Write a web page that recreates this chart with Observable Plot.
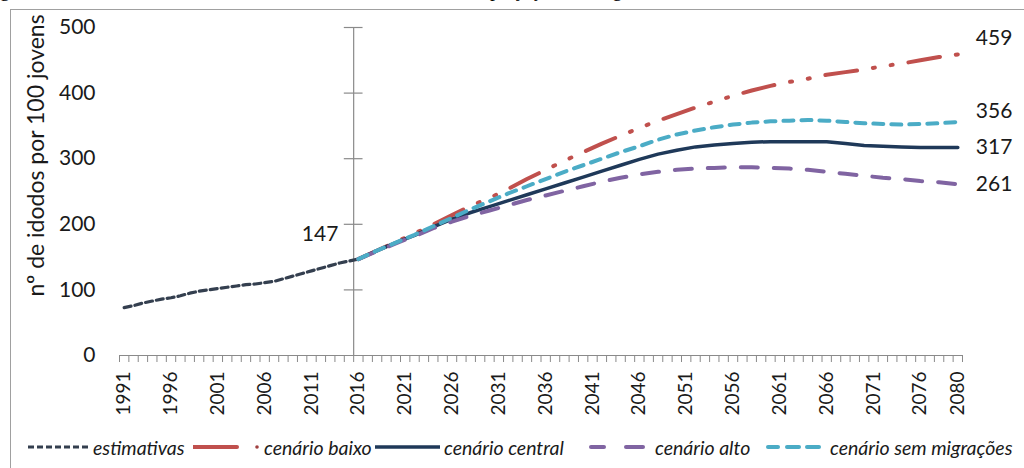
<!DOCTYPE html>
<html>
<head>
<meta charset="utf-8">
<script src="https://cdn.jsdelivr.net/npm/d3@7"></script>
<script src="https://cdn.jsdelivr.net/npm/@observablehq/plot@0.6"></script>
<style>
  html, body { margin: 0; padding: 0; background: #fff; }
  #wrap { position: relative; width: 1024px; height: 468px; overflow: hidden; background: #fff; }
  #frame { position: absolute; left: 10px; top: 9px; width: 1100px; height: 600px; border: 1px solid #a0a0a0; box-sizing: border-box; }
  #title { position: absolute; left: -17px; top: -21px; font: 20px "Liberation Serif", serif; line-height: 20px; white-space: nowrap; color: #000; }
  #chart { position: absolute; left: 0; top: 0; }
  .leg { position: absolute; top: 436px; height: 22px; display: flex; align-items: center; font: italic 19.5px Lato, sans-serif; color: #1a1a1a; white-space: nowrap; }
  .leg span { margin-left: 3px; }
</style>
</head>
<body>
<div id="wrap">
  <div id="frame"></div>
  <div id="title">Figura 3 – Índice de envelhecimento, estimativas e cenários de projeção, Portugal</div>
  <div id="chart"></div>
  <div id="legend"></div>
</div>
<script>
// ---- data ----
const estYears = [1991,1992,1993,1994,1995,1996,1997,1998,1999,2000,2001,2002,2003,2004,2005,2006,2007,2008,2009,2010,2011,2012,2013,2014,2015,2016];
const estimativas = [73,76,80,83,86,88,91,95,98,100,102,104,106,108,109,111,113,117,121,125,129,133,137,141,144,147];

const projYears = [2016,2018,2020,2022,2024,2026,2028,2030,2032,2034,2036,2038,2040,2042,2044,2046,2048,2050,2052,2054,2056,2058,2060,2062,2064,2066,2068,2070,2072,2074,2076,2078,2080];
const cenarioBaixo   = [147,160,173,186,200,214,228,240,254,269,283,297,310,323,335,347,358,368,378,387,396,404,411,417,422,428,432,436,441,445,450,455,459];
const cenarioCentral = [147,160,172,183,196,208,218,227,236,245,254,263,272,281,290,299,307,313,318,321,323,325,326,326,326,326,323,320,319,318,317,317,317];
const cenarioAlto    = [147,159,171,182,194,204,213,221,229,237,244,251,258,265,271,276,280,283,285,286,287,287,286,285,283,280,277,274,271,269,266,264,261];
const cenarioSemMig  = [147,160,172,184,197,210,223,235,247,258,269,280,290,300,310,319,329,337,343,348,352,355,357,358,359,358,356,354,353,352,353,354,356];

const yTicks = [0,100,200,300,400,500];
const xLabels = [1991,1996,2001,2006,2011,2016,2021,2026,2031,2036,2041,2046,2051,2056,2061,2066,2071,2076,2080];
const yTitle = "nº de idodos por 100 jovens";

const series = [
  {name: "estimativas", color: "#343f4f"},
  {name: "cenário baixo", color: "#c0504d"},
  {name: "cenário central", color: "#1f3959"},
  {name: "cenário alto", color: "#8064a2"},
  {name: "cenário sem migrações", color: "#4bacc6"}
];

// ---- tables ----
const estRows = estYears.map((year, i) => ({year, value: estimativas[i]}));
const mk = arr => projYears.map((year, i) => ({year, value: arr[i]}));
const baixoRows = mk(cenarioBaixo), centralRows = mk(cenarioCentral), altoRows = mk(cenarioAlto), semRows = mk(cenarioSemMig);
const bounds = d3.range(estYears[0] - 0.5, projYears[projYears.length - 1] + 1, 1);
const last = rows => [rows[rows.length - 1]];
const axisX0 = 2015.5;

const chart = Plot.plot({
  width: 1024,
  height: 420,
  marginLeft: 119,
  marginRight: 62,
  marginTop: 27,
  marginBottom: 65,
  x: {domain: [bounds[0], bounds[bounds.length - 1]]},
  y: {domain: [0, 500]},
  style: {fontFamily: "Lato, sans-serif", color: "#1a1a1a", background: "transparent", overflow: "visible"},
  marks: [
    Plot.axisY(yTicks, {tickSize: 0, tickPadding: 24, fontSize: 21, label: null}),
    Plot.text([yTitle], {frameAnchor: "left", textAnchor: "middle", dx: -83, dy: -36, rotate: -90, fontSize: 23, fill: "#1a1a1a"}),
    Plot.axisX(bounds, {tickSize: 7, tickFormat: () => "", stroke: "#8a8a8a", label: null}),
    Plot.axisX(xLabels, {tickSize: 0, tickPadding: 16, tickRotate: -90, fontSize: 19, tickFormat: d => String(d), label: null}),
    Plot.ruleY([0], {stroke: "#8a8a8a", strokeWidth: 1.2}),
    Plot.ruleX([axisX0], {y1: 0, y2: 500, stroke: "#8a8a8a", strokeWidth: 1.2}),
    Plot.ruleY(yTicks.slice(1), {x1: axisX0 - 1, x2: axisX0 + 1, stroke: "#8a8a8a", strokeWidth: 1.2}),
    Plot.line(estRows, {x: "year", y: "value", stroke: series[0].color, strokeWidth: 3.2, strokeDasharray: "7,4"}),
    Plot.line(baixoRows, {x: "year", y: "value", stroke: series[1].color, strokeWidth: 4, strokeDasharray: "32,16,2,16,2,16"}),
    Plot.line(centralRows, {x: "year", y: "value", stroke: series[2].color, strokeWidth: 3.5}),
    Plot.line(altoRows, {x: "year", y: "value", stroke: series[3].color, strokeWidth: 4, strokeDasharray: "17,16", strokeLinecap: "round"}),
    Plot.line(semRows, {x: "year", y: "value", stroke: series[4].color, strokeWidth: 4, strokeDasharray: "10,8", strokeLinecap: "round"}),
    Plot.text([estRows[estRows.length - 1]], {x: "year", y: "value", text: d => String(d.value), textAnchor: "end", dx: -20, dy: -25, fontSize: 21, fill: "#1a1a1a"}),
    Plot.text(last(baixoRows), {x: "year", y: "value", text: d => String(d.value), textAnchor: "start", dx: 18, dy: -16, fontSize: 21, fill: "#1a1a1a"}),
    Plot.text(last(semRows), {x: "year", y: "value", text: d => String(d.value), textAnchor: "start", dx: 18, dy: -11, fontSize: 21, fill: "#1a1a1a"}),
    Plot.text(last(centralRows), {x: "year", y: "value", text: d => String(d.value), textAnchor: "start", dx: 18, dy: 0, fontSize: 21, fill: "#1a1a1a"}),
    Plot.text(last(altoRows), {x: "year", y: "value", text: d => String(d.value), textAnchor: "start", dx: 18, dy: 0, fontSize: 21, fill: "#1a1a1a"})
  ]
});
document.getElementById("chart").appendChild(chart);

// ---- legend ----
const swatches = [
  {left: 28, svg: `<svg width="62" height="10"><line x1="0" y1="5" x2="60" y2="5" stroke="${series[0].color}" stroke-width="3" stroke-dasharray="6,3"/></svg>`},
  {left: 193, svg: `<svg width="68" height="10"><line x1="0" y1="5" x2="44" y2="5" stroke="${series[1].color}" stroke-width="4" stroke-linecap="round"/><circle cx="64" cy="5" r="1.8" fill="#a04040"/></svg>`},
  {left: 375, svg: `<svg width="66" height="10"><line x1="0" y1="5" x2="65" y2="5" stroke="${series[2].color}" stroke-width="3.5"/></svg>`},
  {left: 589, svg: `<svg width="63" height="10"><line x1="2" y1="5" x2="15" y2="5" stroke="${series[3].color}" stroke-width="4" stroke-linecap="round"/><line x1="37" y1="5" x2="54" y2="5" stroke="${series[3].color}" stroke-width="4" stroke-linecap="round"/></svg>`},
  {left: 766, svg: `<svg width="61" height="10"><line x1="2" y1="5" x2="12" y2="5" stroke="${series[4].color}" stroke-width="4" stroke-linecap="round"/><line x1="21" y1="5" x2="33" y2="5" stroke="${series[4].color}" stroke-width="4" stroke-linecap="round"/><line x1="41" y1="5" x2="53" y2="5" stroke="${series[4].color}" stroke-width="4" stroke-linecap="round"/></svg>`}
];
const legend = document.getElementById("legend");
series.forEach((s, i) => {
  const div = document.createElement("div");
  div.className = "leg";
  div.style.left = swatches[i].left + "px";
  div.innerHTML = swatches[i].svg + `<span>${s.name}</span>`;
  legend.appendChild(div);
});
</script>
</body>
</html>
